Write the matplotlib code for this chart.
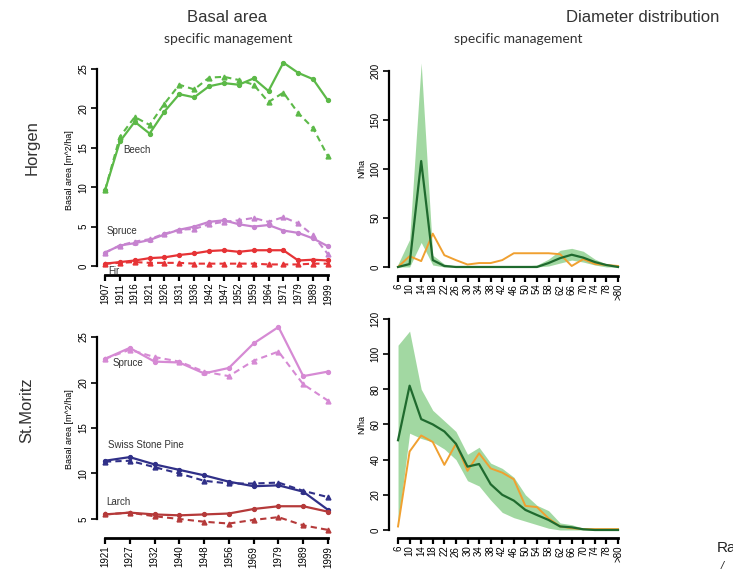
import matplotlib
matplotlib.use("Agg")
import matplotlib.pyplot as plt
import numpy as np

plt.rcParams['font.family'] = ['Liberation Sans', 'DejaVu Sans']

# ---------------- data ----------------
horgen_years = ["1907", "1911", "1916", "1921", "1926", "1931", "1936", "1942",
                "1947", "1952", "1959", "1964", "1971", "1979", "1989", "1999"]
beech_solid = [9.6, 15.8, 18.3, 16.8, 19.6, 21.8, 21.4, 22.8, 23.2, 23.0, 23.8, 22.2, 25.8, 24.5, 23.7, 21.0]
beech_dash = [9.6, 16.4, 18.9, 17.9, 20.6, 23.0, 22.4, 23.9, 24.0, 23.6, 23.0, 20.8, 22.0, 19.4, 17.5, 13.9]
spruceH_solid = [1.7, 2.6, 2.9, 3.3, 4.0, 4.6, 5.0, 5.6, 5.8, 5.3, 5.0, 5.2, 4.5, 4.2, 3.5, 2.5]
spruceH_dash = [1.7, 2.6, 3.1, 3.4, 4.1, 4.6, 4.7, 5.3, 5.6, 5.8, 6.1, 5.6, 6.2, 5.4, 3.9, 1.5]
fir_solid = [0.3, 0.5, 0.7, 1.0, 1.1, 1.4, 1.6, 1.9, 2.0, 1.8, 2.0, 2.0, 2.0, 0.7, 0.8, 0.7]
fir_dash = [0.3, 0.4, 0.5, 0.4, 0.4, 0.4, 0.3, 0.3, 0.3, 0.3, 0.3, 0.2, 0.2, 0.2, 0.3, 0.3]

stm_years = ["1921", "1927", "1932", "1940", "1948", "1956", "1969", "1979", "1989", "1999"]
spruceS_solid = [22.6, 23.8, 22.3, 22.2, 21.0, 21.6, 24.3, 26.1, 20.7, 21.2]
spruceS_dash = [22.6, 23.6, 22.8, 22.3, 21.2, 20.7, 22.4, 23.4, 19.8, 18.0]
pine_solid = [11.4, 11.8, 11.0, 10.4, 9.8, 9.1, 8.6, 8.7, 8.0, 6.0]
pine_dash = [11.3, 11.4, 10.7, 10.0, 9.2, 8.9, 8.9, 9.0, 8.1, 7.4]
larch_solid = [5.5, 5.7, 5.5, 5.4, 5.5, 5.6, 6.1, 6.4, 6.4, 5.8]
larch_dash = [5.5, 5.7, 5.3, 5.0, 4.7, 4.5, 4.9, 5.2, 4.3, 3.8]

dbh_classes = ["6", "10", "14", "18", "22", "26", "30", "34", "38", "42",
               "46", "50", "54", "58", "62", "66", "70", "74", "78", ">80"]
h_mean = [0, 3, 108, 7, 1, 0, 0, 0, 0, 0, 0, 0, 0, 4, 9, 12.5, 9.5, 5, 2, 0]
h_obs = [0, 11, 6, 34, 12, 7, 2.5, 4, 4, 7, 14, 14, 14, 14, 13, 1, 8, 3, 2, 1]
h_low = [0, 0, 25, 2, 0, 0, 0, 0, 0, 0, 0, 0, 0, 1, 4, 7, 5, 2, 0, 0]
h_up = [3, 28, 208, 12, 3, 1, 1, 1, 1, 1, 1, 1, 2, 8, 17, 19, 16, 8, 3, 1]

s_mean = [51, 82, 63, 60, 56, 49, 36, 37.5, 26, 20, 16.7, 11.4, 8.5, 5.7, 2, 1.5, 0.4, 0, 0, 0]
s_obs = [2, 44.6, 53.7, 50, 37, 49, 33.6, 43.6, 35, 32.6, 28.8, 13.7, 13, 6.6, 2, 1, 0.5, 0.5, 0.5, 0.5]
s_low = [3, 55, 52, 50, 46, 40, 28, 25, 17, 10, 7, 5, 3, 1, 0, 0, 0, 0, 0, 0]
s_up = [105, 113, 80, 68, 62, 56, 43, 47, 38, 35, 30, 20, 14, 11, 4, 3, 1, 0.5, 0.5, 0.5]

# ---------------- figure ----------------
W, H = 733, 569
fig = plt.figure(figsize=(W / 100, H / 100), dpi=100)


def ax_px(left, top, right, bottom):
    return fig.add_axes([left / W, 1 - bottom / H, (right - left) / W, (bottom - top) / H])


def fpx(x, y):
    return x / W, 1 - y / H


def style(ax, labels, ybounds, yticks):
    for s in ("top", "right"):
        ax.spines[s].set_visible(False)
    ax.spines["left"].set_linewidth(1.6)
    ax.spines["bottom"].set_linewidth(2.0)
    ax.spines["left"].set_bounds(*ybounds)
    ax.spines["bottom"].set_bounds(0, len(labels) - 1)
    ax.set_xticks(range(len(labels)))
    ax.set_xticklabels(labels, rotation=90, fontsize=7)
    ax.set_yticks(yticks)
    ax.set_yticklabels([str(t) for t in yticks], rotation=90, fontsize=7, va="center")
    ax.tick_params(axis="x", length=4, width=1.6, pad=1.5)
    ax.tick_params(axis="y", length=4, width=1.2, pad=2)
    ax.patch.set_alpha(0)


def series(ax, vals_solid, vals_dash, color):
    x = np.arange(len(vals_solid))
    ax.plot(x, vals_solid, "-", color=color, lw=1.6, marker="o", ms=2.8, clip_on=False)
    ax.plot(x, vals_dash, "--", color=color, lw=1.5, marker="^", ms=3.5,
            dashes=(3, 2), clip_on=False)


# Horgen basal area
ax1 = ax_px(97, 65, 333, 275)
style(ax1, horgen_years, (0, 25), [0, 5, 10, 15, 20, 25])
ax1.set_xlim(-0.54, 15.34)
ax1.set_ylim(-1.14, 25.5)
series(ax1, beech_solid, beech_dash, "#5cb948")
series(ax1, spruceH_solid, spruceH_dash, "#c683cf")
series(ax1, fir_solid, fir_dash, "#e63336")
ax1.set_ylabel("Basal area [m^2/ha]", fontsize=6.5, labelpad=3)

# St.Moritz basal area
ax3 = ax_px(97, 320, 333, 538)
style(ax3, stm_years, (5, 25), [5, 10, 15, 20, 25])
ax3.set_xlim(-0.32, 9.2)
ax3.set_ylim(2.91, 26.87)
series(ax3, spruceS_solid, spruceS_dash, "#d68ad4")
series(ax3, pine_solid, pine_dash, "#303088")
series(ax3, larch_solid, larch_dash, "#b53a3a")
ax3.set_ylabel("Basal area [m^2/ha]", fontsize=6.5, labelpad=3)


def diam(ax, mean, obs, low, up):
    x = np.arange(len(mean))
    ax.fill_between(x, low, up, color="#92d292", alpha=0.85, lw=0, clip_on=False)
    ax.plot(x, obs, "-", color="#f0a030", lw=1.4, clip_on=False)
    ax.plot(x, mean, "-", color="#1f6a2e", lw=1.6, clip_on=False)
    ax.set_ylabel("N/ha", fontsize=6.5, labelpad=3)


# Horgen diameter distribution
ax2 = ax_px(389, 60, 623, 276)
style(ax2, dbh_classes, (0, 200), [0, 50, 100, 150, 200])
ax2.set_xlim(-0.78, 19.43)
ax2.set_ylim(-9.2, 211)
diam(ax2, h_mean, h_obs, h_low, h_up)

# St.Moritz diameter distribution
ax4 = ax_px(389, 310, 623, 538)
style(ax4, dbh_classes, (0, 120), [0, 20, 40, 60, 80, 100, 120])
ax4.set_xlim(-0.78, 19.43)
ax4.set_ylim(-4.55, 125)
diam(ax4, s_mean, s_obs, s_low, s_up)

# ---------------- texts ----------------
tc = "#333333"
fig.text(*fpx(227, 17), "Basal area", fontsize=12, color=tc, ha="center", va="center")
fig.text(*fpx(643, 17), "Diameter distribution", fontsize=12, color=tc, ha="center", va="center")
fig.text(*fpx(228, 39), "specific management", fontsize=10, color=tc, ha="center",
         va="center", family="Lato")
fig.text(*fpx(518, 39), "specific management", fontsize=10, color=tc, ha="center",
         va="center", family="Lato")
fig.text(*fpx(32, 148), "Horgen", fontsize=12, color=tc, rotation=90, ha="center", va="center")
fig.text(*fpx(27, 410), "St.Moritz", fontsize=12, color=tc, rotation=90, ha="center", va="center")

lab = dict(fontsize=7, color="#333333", va="center", ha="left")
fig.text(*fpx(123, 150), "Beech", **lab)
fig.text(*fpx(107, 231), "Spruce", **lab)
fig.text(*fpx(108, 271), "Fir", **lab)
fig.text(*fpx(113, 363), "Spruce", **lab)
fig.text(*fpx(108, 445), "Swiss Stone Pine", **lab)
fig.text(*fpx(106, 502), "Larch", **lab)

fig.text(*fpx(717, 548), "Ra", fontsize=11, color="#222222", ha="left", va="center")
fig.text(*fpx(721, 566), "/", fontsize=8, color="#222222", ha="left", va="center",
         style="italic")

fig.savefig("out.png", dpi=100)
